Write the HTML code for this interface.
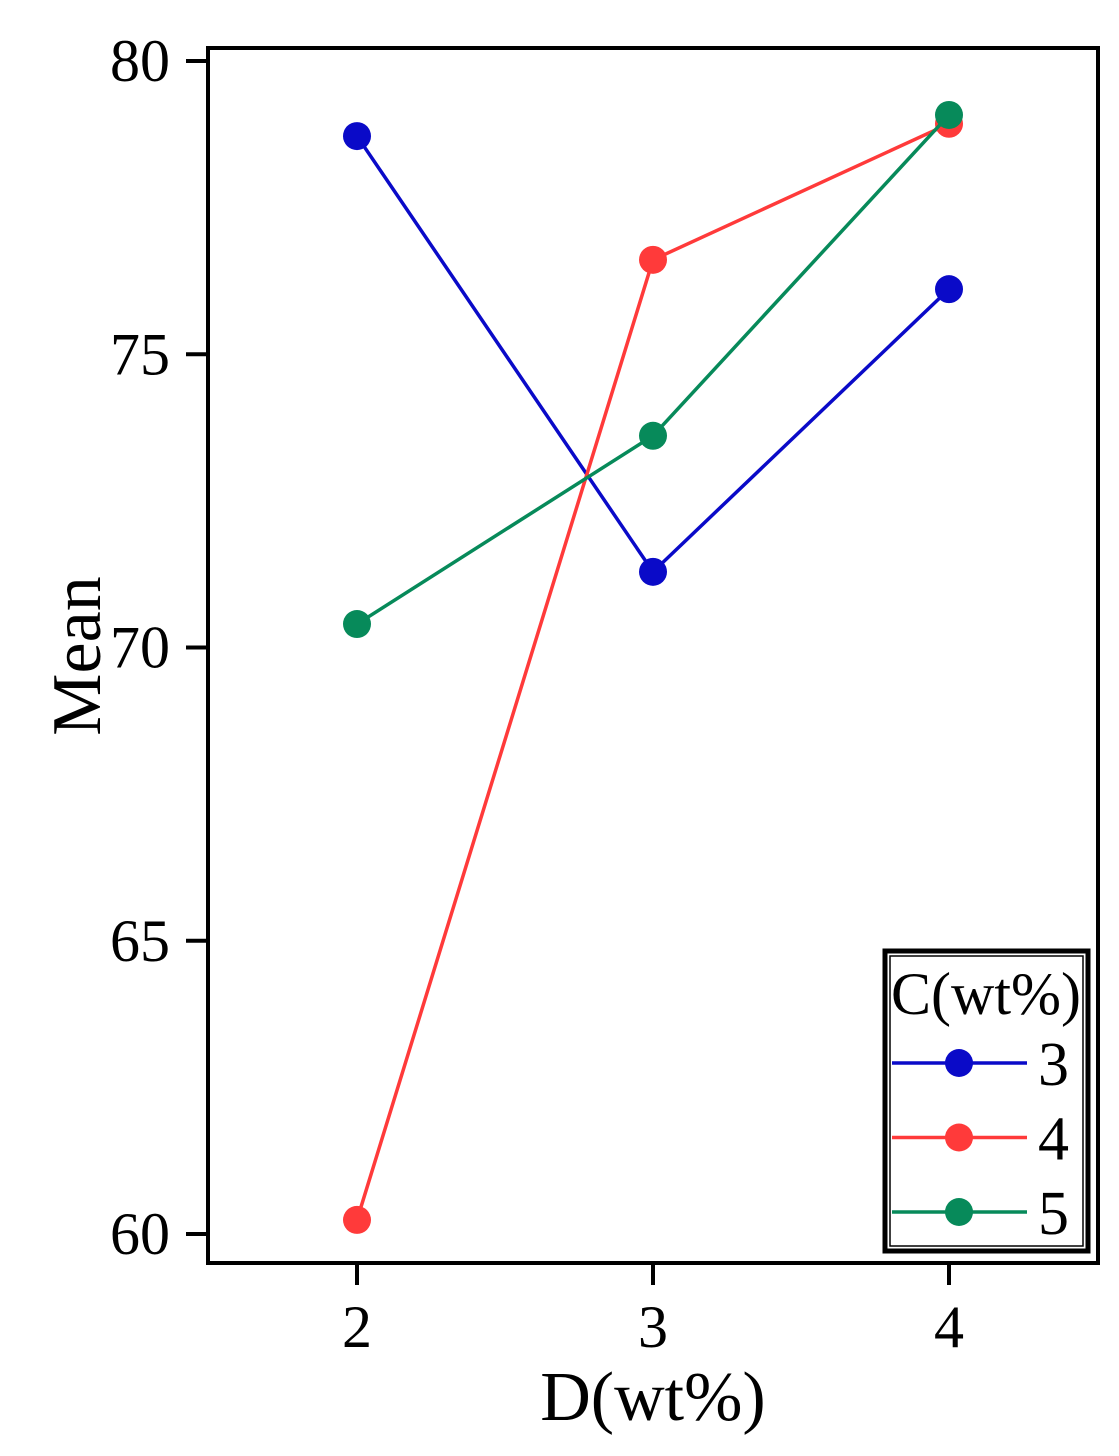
<!DOCTYPE html>
<html><head><meta charset="utf-8"><style>html,body{margin:0;padding:0;background:#fff}svg{display:block}</style></head>
<body>
<svg id="chart" width="1119" height="1456" xmlns="http://www.w3.org/2000/svg" font-family="'Liberation Serif', serif">
<rect x="0" y="0" width="1119" height="1456" fill="#fff"/>
<g id="plot"></g>
</svg>
<script>
const xCategories = [2, 3, 4];
const yTicks = [60, 65, 70, 75, 80];
const seriesNames = ["3", "4", "5"];
const seriesColors = ["#0a0ac8", "#ff3a3a", "#078a5a"];
const series3 = [78.72, 71.29, 76.11];
const series4 = [60.24, 76.61, 78.93];
const series5 = [70.40, 73.61, 79.08];
const allSeries = [series3, series4, series5];

const NS = "http://www.w3.org/2000/svg";
const g = document.getElementById('plot');
const L = 208, R = 1098, T = 48, B = 1263;
function xs(v) { return 357 + (v - 2) * 296; }
function ys(v) { return 61 + (80 - v) * 58.65; }
function mk(tag, attrs, parent) {
  const e = document.createElementNS(NS, tag);
  for (const k in attrs) e.setAttribute(k, attrs[k]);
  (parent || g).appendChild(e);
  return e;
}
let e;
e = mk('rect', {x: L, y: T, width: R - L, height: B - T, fill: 'none', stroke: '#000', 'stroke-width': 4});



yTicks.forEach(t => {
  const y = ys(t);
  let tk = mk('line', {x1: 186, x2: L, y1: y, y2: y, stroke: '#000', 'stroke-width': 4});
  
  
  let lb = mk('text', {x: 170, y: y + 20, 'font-size': 60, 'text-anchor': 'end', fill: '#000'});
  lb.textContent = t;
  
  
});
xCategories.forEach(c => {
  const x = xs(c);
  let tk = mk('line', {x1: x, x2: x, y1: B, y2: 1285, stroke: '#000', 'stroke-width': 4});
  
  
  let lb = mk('text', {x: x, y: 1347, 'font-size': 60, 'text-anchor': 'middle', fill: '#000'});
  lb.textContent = c;
  
  
});
e = mk('text', {x: 653, y: 1420, 'font-size': 70, 'text-anchor': 'middle', fill: '#000'});
e.textContent = 'D(wt%)';


e = mk('text', {x: 0, y: 0, 'font-size': 70, 'text-anchor': 'middle', fill: '#000', transform: 'translate(100,656) rotate(-90)'});
e.textContent = 'Mean';



allSeries.forEach((s, i) => {
  const pts = s.map((v, j) => xs(xCategories[j]) + ',' + ys(v)).join(' ');
  let pl = mk('polyline', {points: pts, fill: 'none', stroke: seriesColors[i], 'stroke-width': 3.5});
  
  
  s.forEach((v, j) => {
    let c = mk('circle', {cx: xs(xCategories[j]), cy: ys(v), r: 14, fill: seriesColors[i]});
    
    
  });
});

// legend
const lg = mk('g', {});


mk('rect', {x: 885, y: 951, width: 203, height: 300, fill: '#fff', stroke: '#000', 'stroke-width': 5}, lg);
mk('rect', {x: 890, y: 956, width: 193, height: 290, fill: 'none', stroke: '#000', 'stroke-width': 1.5}, lg);
e = mk('text', {x: 986, y: 1014, 'font-size': 60, 'text-anchor': 'middle', fill: '#000'}, lg);
e.textContent = 'C(wt%)';


seriesNames.forEach((n, i) => {
  const y = 1063 + i * 74.5;
  const eg = mk('g', {}, lg);
  
  
  mk('line', {x1: 892, x2: 1027, y1: y, y2: y, stroke: seriesColors[i], 'stroke-width': 3.5}, eg);
  mk('circle', {cx: 959, cy: y, r: 14, fill: seriesColors[i]}, eg);
  const t = mk('text', {x: 1038, y: y + 22, 'font-size': 62, fill: '#000'}, eg);
  t.textContent = n;
});
</script>
</body></html>
